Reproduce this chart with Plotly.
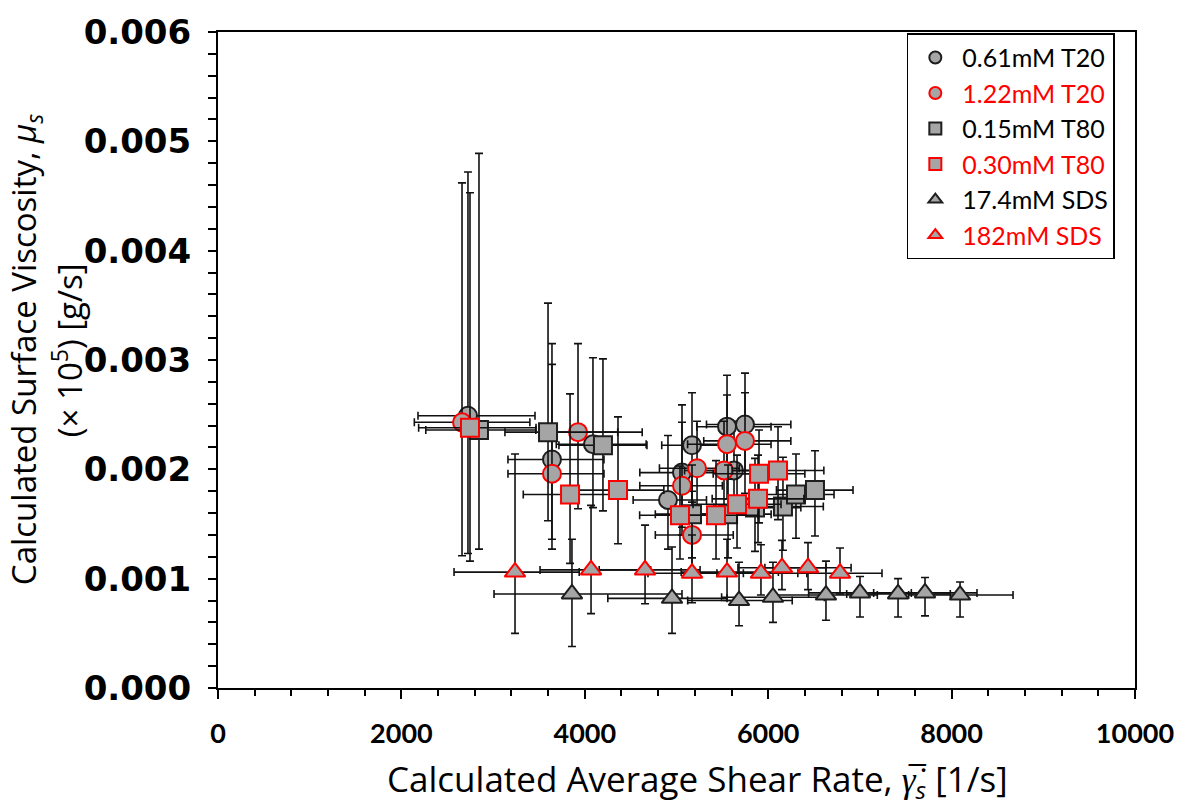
import plotly.graph_objects as go

# ---- data: shear rate (1/s), surface viscosity, and asymmetric uncertainties ----
t20_061_x = [2726, 3642, 4089, 4907, 5060, 5169, 5551, 5627, 5747]
t20_061_y = [0.00249, 0.00209, 0.00223, 0.00172, 0.00197, 0.00222, 0.00239, 0.00199, 0.00241]
t20_061_xp = [731, 567, 580, 420, 440, 450, 480, 480, 500]
t20_061_xm = [545, 480, 400, 380, 460, 330, 330, 400, 420]
t20_061_yp = [0.00223, 0.00106, 0.00079, 0.00059, 0.00062, 0.00048, 0.00047, 0.00045, 0.00047]
t20_061_ym = [0.00126, 0.00073, 0.00058, 0.00045, 0.00050, 0.00052, 0.00048, 0.00040, 0.00045]

t20_122_x = [2661, 3642, 3926, 5060, 5169, 5224, 5518, 5551, 5747]
t20_122_y = [0.00243, 0.00196, 0.00234, 0.00185, 0.00140, 0.00201, 0.00199, 0.00223, 0.00226]
t20_122_xp = [740, 567, 700, 440, 450, 460, 470, 480, 500]
t20_122_xm = [520, 480, 410, 460, 400, 410, 430, 430, 450]
t20_122_yp = [0.00219, 0.00100, 0.00081, 0.00058, 0.00040, 0.00043, 0.00045, 0.00045, 0.00044]
t20_122_ym = [0.00122, 0.00069, 0.00070, 0.00045, 0.00035, 0.00045, 0.00045, 0.00050, 0.00048]

t80_015_x = [2846, 3599, 4198, 5169, 5562, 5856, 6161, 6303, 6510]
t80_015_y = [0.00236, 0.00234, 0.00222, 0.00159, 0.00159, 0.00165, 0.00166, 0.00177, 0.00181]
t80_015_xp = [620, 760, 480, 440, 470, 500, 440, 415, 415]
t80_015_xm = [580, 470, 480, 400, 420, 450, 450, 430, 420]
t80_015_yp = [0.00253, 0.00118, 0.00079, 0.00045, 0.00045, 0.00045, 0.00045, 0.00037, 0.00036]
t80_015_ym = [0.00109, 0.00081, 0.00060, 0.00040, 0.00040, 0.00040, 0.00040, 0.00040, 0.00042]

t80_030_x = [2748, 3839, 4362, 5038, 5431, 5660, 5889, 5900, 6107]
t80_030_y = [0.00238, 0.00177, 0.00181, 0.00158, 0.00158, 0.00168, 0.00173, 0.00196, 0.00199]
t80_030_xp = [720, 430, 500, 430, 460, 480, 500, 500, 500]
t80_030_xm = [560, 510, 480, 440, 460, 480, 500, 500, 500]
t80_030_yp = [0.00215, 0.00092, 0.00067, 0.00045, 0.00050, 0.00045, 0.00040, 0.00040, 0.00040]
t80_030_ym = [0.00122, 0.00063, 0.00049, 0.00040, 0.00040, 0.00040, 0.00040, 0.00045, 0.00045]

sds_174_x = [3860, 4951, 5682, 6052, 6630, 7001, 7416, 7710, 8092]
sds_174_y = [0.00086, 0.00082, 0.00080, 0.00083, 0.00085, 0.00087, 0.00086, 0.00087, 0.00085]
sds_174_xp = [1200, 600, 580, 560, 560, 560, 570, 567, 578]
sds_174_xm = [850, 700, 560, 560, 560, 560, 560, 560, 560]
sds_174_yp = [0.00050, 0.00047, 0.00035, 0.00032, 0.00031, 0.00015, 0.00014, 0.00014, 0.00012]
sds_174_ym = [0.00048, 0.00032, 0.00023, 0.00023, 0.00023, 0.00022, 0.00021, 0.00021, 0.00020]

sds_182_x = [3239, 4068, 4657, 5169, 5551, 5921, 6150, 6434, 6783]
sds_182_y = [0.00106, 0.00108, 0.00108, 0.00105, 0.00106, 0.00105, 0.00110, 0.00110, 0.00105]
sds_182_xp = [700, 650, 600, 560, 560, 500, 480, 470, 458]
sds_182_xm = [665, 556, 500, 480, 500, 480, 480, 470, 460]
sds_182_yp = [0.00108, 0.00059, 0.00041, 0.00035, 0.00030, 0.00026, 0.00025, 0.00023, 0.00023]
sds_182_ym = [0.00056, 0.00040, 0.00031, 0.00027, 0.00026, 0.00020, 0.00020, 0.00020, 0.00019]

y_tick_vals = [0, 0.001, 0.002, 0.003, 0.004, 0.005, 0.006]
y_tick_text = ["0.000", "0.001", "0.002", "0.003", "0.004", "0.005", "0.006"]
x_tick_vals = [0, 2000, 4000, 6000, 8000, 10000]
x_tick_text = ["0", "2000", "4000", "6000", "8000", "10000"]

FILL = "#a5a5a5"
DARK = "#1e1e1e"
RED = "#ff0000"

series = [
    ("0.61mM T20", "circle", DARK, t20_061_x, t20_061_y, t20_061_xp, t20_061_xm, t20_061_yp, t20_061_ym),
    ("1.22mM T20", "circle", RED, t20_122_x, t20_122_y, t20_122_xp, t20_122_xm, t20_122_yp, t20_122_ym),
    ("0.15mM T80", "square", DARK, t80_015_x, t80_015_y, t80_015_xp, t80_015_xm, t80_015_yp, t80_015_ym),
    ("0.30mM T80", "square", RED, t80_030_x, t80_030_y, t80_030_xp, t80_030_xm, t80_030_yp, t80_030_ym),
    ("17.4mM SDS", "triangle-up", DARK, sds_174_x, sds_174_y, sds_174_xp, sds_174_xm, sds_174_yp, sds_174_ym),
    ("182mM SDS", "triangle-up", RED, sds_182_x, sds_182_y, sds_182_xp, sds_182_xm, sds_182_yp, sds_182_ym),
]

fig = go.Figure()
for name, symbol, edge, x, y, xp, xm, yp, ym in series:
    text_color = "#000000" if edge == DARK else RED
    fig.add_trace(go.Scatter(
        x=x, y=y, mode="markers",
        name=f"<span style='color:{text_color}'>{name}</span>",
        marker=dict(symbol=symbol, size=18, color=FILL,
                    line=dict(color=edge, width=2)),
        error_x=dict(type="data", symmetric=False, array=xp, arrayminus=xm,
                     color="#111111", thickness=1.6, width=4),
        error_y=dict(type="data", symmetric=False, array=yp, arrayminus=ym,
                     color="#111111", thickness=1.6, width=4),
    ))

axis_line = dict(showline=True, linecolor="black", linewidth=2, mirror=True,
                 showgrid=False, zeroline=False, ticks="outside",
                 tickcolor="black", tickwidth=2)

fig.update_xaxes(
    range=[0, 10000], tickvals=x_tick_vals, ticktext=x_tick_text, ticklen=9,
    minor=dict(dtick=400, ticks="outside", ticklen=6, tickwidth=2, tickcolor="black"),
    tickfont=dict(family="Lato", size=27, color="black", weight="bold"),
    ticklabelstandoff=12,
    **axis_line,
)
fig.update_yaxes(
    range=[0, 0.006], tickvals=y_tick_vals, ticktext=y_tick_text, ticklen=8,
    minor=dict(dtick=0.0002, ticks="outside", ticklen=8, tickwidth=2, tickcolor="black"),
    tickfont=dict(family="DejaVu Sans", size=34, color="black", weight="bold"),
    ticklabelstandoff=10,
    **axis_line,
)

fig.add_annotation(
    text="Calculated Average Shear Rate, <i>\u03b3\u0307\u0305</i><sub><i>s</i></sub> [1/s]",
    xref="paper", yref="paper", x=0.523, y=(688 - 782) / 666, showarrow=False,
    xanchor="center", yanchor="middle",
    font=dict(family="Open Sans", size=35, color="black"),
)
fig.add_annotation(
    text="Calculated Surface Viscosity, <i>\u03bc<sub>s</sub></i>",
    xref="paper", yref="paper", x=(25 - 218) / 917, y=0.515, showarrow=False,
    textangle=-90, xanchor="center", yanchor="middle",
    font=dict(family="Open Sans", size=33, color="black"),
)
fig.add_annotation(
    text="(\u00d7 10<sup>5</sup>) [g/s]",
    xref="paper", yref="paper", x=(67 - 218) / 917, y=0.515, showarrow=False,
    textangle=-90, xanchor="center", yanchor="middle",
    font=dict(family="Open Sans", size=33, color="black"),
)

fig.update_layout(
    width=1186, height=807,
    margin=dict(l=218, r=51, t=22, b=119),
    paper_bgcolor="white", plot_bgcolor="white",
    showlegend=True,
    legend=dict(x=0.978, y=0.998, xanchor="right", yanchor="top",
                bgcolor="white", bordercolor="black", borderwidth=1.5,
                font=dict(family="Lato", size=25, color="black"),
                itemsizing="constant", itemwidth=44),
)

fig.write_html("out.html")
